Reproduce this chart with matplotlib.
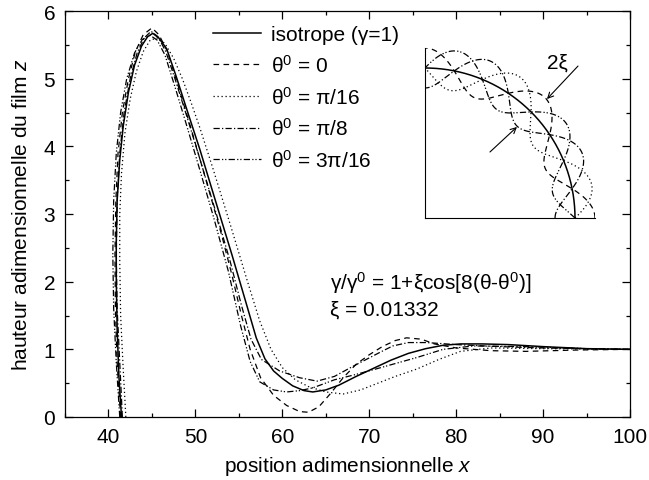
import numpy as np
import matplotlib
matplotlib.use("Agg")
import matplotlib.pyplot as plt
from matplotlib.ticker import MultipleLocator

plt.rcParams['font.family'] = ['Liberation Sans', 'DejaVu Sans']
plt.rcParams['mathtext.fontset'] = 'custom'
plt.rcParams['mathtext.rm'] = 'Liberation Sans'
plt.rcParams['mathtext.it'] = 'Liberation Sans:italic'
plt.rcParams['mathtext.bf'] = 'Liberation Sans:bold'

# ---------------- data ----------------
labels = ['isotrope (γ=1)', 'θ$^0$ = 0', 'θ$^0$ = π/16', 'θ$^0$ = π/8', 'θ$^0$ = 3π/16']

x_iso = [41.5, 41.2, 41.0, 40.9, 40.9, 41.0, 41.3, 41.7, 42.3, 43.0, 43.8, 44.5, 45.1, 45.8, 46.7,
         47.8, 49.0, 50.5, 52.3, 54.2, 55.8, 57.0, 58.0, 59.0, 60.0, 61.2, 62.5, 63.5, 65.0, 66.5,
         68.5, 70.5, 72.5, 74.5, 76.5, 78.5, 80.5, 83.0, 86.0, 90.0, 95.0, 100.0]
z_iso = [0.0, 0.6, 1.3, 2.0, 2.6, 3.2, 3.8, 4.3, 4.8, 5.2, 5.48, 5.62, 5.67, 5.6, 5.44,
         5.03, 4.55, 3.96, 3.2, 2.4, 1.7, 1.17, 0.86, 0.68, 0.57, 0.46, 0.39, 0.37, 0.4, 0.47,
         0.6, 0.72, 0.84, 0.94, 1.01, 1.06, 1.08, 1.08, 1.07, 1.04, 1.01, 1.0]

x_t0 = [41.4, 41.0, 40.8, 40.75, 40.85, 41.1, 41.6, 42.3, 43.1, 44.0, 45.0, 45.8, 46.8, 48.0, 49.3,
        51.0, 53.0, 54.2, 55.3, 56.3, 57.5, 59.0, 60.5, 62.0, 63.0, 64.2, 65.5, 67.0, 68.5, 70.0,
        71.5, 73.0, 74.3, 76.0, 77.5, 80.0, 84.0, 88.0, 94.0, 100.0]
z_t0 = [0.0, 0.8, 1.6, 2.4, 3.2, 3.9, 4.5, 5.0, 5.4, 5.65, 5.75, 5.65, 5.4, 4.9, 4.35,
        3.6, 2.7, 2.1, 1.5, 1.0, 0.58, 0.32, 0.17, 0.08, 0.07, 0.15, 0.34, 0.58, 0.78, 0.92,
        1.04, 1.13, 1.17, 1.15, 1.08, 1.02, 0.98, 0.97, 0.99, 1.0]

x_t16 = [42.0, 41.7, 41.4, 41.3, 41.3, 41.5, 41.9, 42.5, 43.2, 44.0, 44.8, 45.6, 46.5, 47.5, 48.5,
         49.5, 50.5, 52.0, 54.0, 56.0, 57.4, 58.7, 60.0, 61.5, 63.0, 65.0, 67.0, 69.0, 71.0, 73.0,
         75.5, 78.0, 80.5, 84.0, 90.0, 100.0]
z_t16 = [0.0, 0.7, 1.5, 2.3, 3.0, 3.6, 4.2, 4.7, 5.1, 5.4, 5.57, 5.6, 5.52, 5.3, 5.0,
         4.65, 4.28, 3.68, 2.85, 2.0, 1.42, 1.0, 0.73, 0.55, 0.45, 0.37, 0.34, 0.4, 0.5, 0.6,
         0.71, 0.85, 0.97, 1.02, 1.01, 1.0]

x_t8 = [41.6, 41.3, 41.0, 40.9, 41.0, 41.3, 41.8, 42.5, 43.3, 44.1, 44.9, 45.7, 46.6, 47.7, 49.0,
        50.5, 52.3, 54.0, 55.3, 56.4, 57.6, 59.7, 62.0, 64.0, 66.0, 68.0, 69.8, 71.3, 72.7, 74.5,
        76.6, 80.0, 85.0, 90.0, 95.0, 100.0]
z_t8 = [0.0, 0.8, 1.6, 2.4, 3.2, 3.9, 4.5, 5.0, 5.38, 5.6, 5.7, 5.62, 5.4, 4.98, 4.45,
        3.82, 3.05, 2.3, 1.65, 1.15, 0.85, 0.68, 0.58, 0.53, 0.6, 0.74, 0.86, 0.96, 1.05, 1.1,
        1.1, 1.07, 1.04, 1.02, 1.01, 1.0]

x_t3 = [41.3, 40.9, 40.6, 40.5, 40.6, 40.9, 41.4, 42.1, 43.0, 43.9, 44.8, 45.6, 46.5, 47.6, 48.9,
        50.4, 52.1, 53.8, 55.2, 56.3, 57.4, 59.0, 60.5, 62.0, 63.5, 66.0, 68.5, 70.5, 73.0, 75.5,
        78.5, 82.0, 88.0, 95.0, 100.0]
z_t3 = [0.0, 0.8, 1.6, 2.4, 3.2, 3.9, 4.5, 5.0, 5.38, 5.58, 5.64, 5.57, 5.35, 4.9, 4.35,
        3.7, 2.95, 2.15, 1.35, 0.82, 0.52, 0.4, 0.37, 0.39, 0.43, 0.55, 0.63, 0.7, 0.79, 0.88,
        1.0, 1.05, 1.04, 1.01, 1.0]

# inset: polar plot of gamma/gamma0 = 1 + A cos[8(theta - theta0)], amplitude exaggerated
xi = 0.01332
inset_amp = 10 * xi
theta0_vals = [0.0, np.pi / 16, np.pi / 8, 3 * np.pi / 16]

series_x = [x_iso, x_t0, x_t16, x_t8, x_t3]
series_z = [z_iso, z_t0, z_t16, z_t8, z_t3]

# ---------------- styles ----------------
styles = ['-', (0, (4.5, 3.5)), (0, (1, 2.2)), (0, (5, 1.8, 1, 1.8)), (0, (5, 1.8, 1, 1.5, 1, 1.8))]
lws = [1.1, 0.9, 0.9, 0.9, 0.9]

fig = plt.figure(figsize=(6.49, 4.81), dpi=100)
ax = fig.add_axes([65 / 649, 63 / 481, 565 / 649, 406 / 481])

handles = []
for xs, zs, ls, lw, lab in zip(series_x, series_z, styles, lws, labels):
    h, = ax.plot(xs, zs, color='black', linestyle=ls, linewidth=lw, label=lab)
    handles.append(h)

ax.set_xlim(35, 100)
ax.set_ylim(0, 6)
ax.xaxis.set_major_locator(MultipleLocator(10))
ax.xaxis.set_minor_locator(MultipleLocator(5))
ax.yaxis.set_major_locator(MultipleLocator(1))
ax.yaxis.set_minor_locator(MultipleLocator(0.5))
ax.tick_params(which='both', direction='in', top=True, right=True, labelsize=15, width=0.9)
ax.tick_params(which='major', length=6, pad=7)
ax.tick_params(which='minor', length=3)
for s in ax.spines.values():
    s.set_linewidth(0.9)

ax.set_xlabel('position adimensionnelle $x$', fontsize=15, labelpad=6)
ax.set_ylabel('hauteur adimensionnelle du film $z$', fontsize=15, labelpad=9)

leg = fig.legend(handles=handles, loc='upper left', bbox_to_anchor=(213 / 649, 1 - 26 / 481),
                 frameon=False, fontsize=15, handlelength=2.3, handletextpad=0.5,
                 labelspacing=0.47, borderpad=0, borderaxespad=0)

ax.text(65.5, 2.0, 'γ/γ$^0$ = 1+ξcos[8(θ-θ$^0$)]', fontsize=15, va='center', ha='left')
ax.text(65.5, 1.6, 'ξ = 0.01332', fontsize=15, va='center', ha='left')

# ---------------- inset ----------------
ins = fig.add_axes([425 / 649, (481 - 219) / 481, 170 / 649, 170 / 481])
th = np.linspace(0, np.pi / 2, 400)
ins.plot(np.cos(th), np.sin(th), color='black', linewidth=1.1)
for t0, ls in zip(theta0_vals, styles[1:]):
    r = 1 + inset_amp * np.cos(8 * (th - t0))
    ins.plot(r * np.cos(th), r * np.sin(th), color='black', linestyle=ls, linewidth=0.9)
ins.set_xlim(0, 170 / 150)
ins.set_ylim(0, 170 / 150)
ins.set_xticks([])
ins.set_yticks([])
ins.spines['top'].set_visible(False)
ins.spines['right'].set_visible(False)
ins.patch.set_alpha(0)
ins.annotate('', xy=(0.813, 0.793), xytext=(1.02, 1.013),
             arrowprops=dict(arrowstyle='->', color='black', lw=0.8, shrinkA=0, shrinkB=0))
ins.annotate('', xy=(0.613, 0.607), xytext=(0.433, 0.44),
             arrowprops=dict(arrowstyle='->', color='black', lw=0.8, shrinkA=0, shrinkB=0))
ins.text(0.88, 1.04, '2ξ', fontsize=15, ha='center', va='center')

fig.savefig('out.png', dpi=100)
